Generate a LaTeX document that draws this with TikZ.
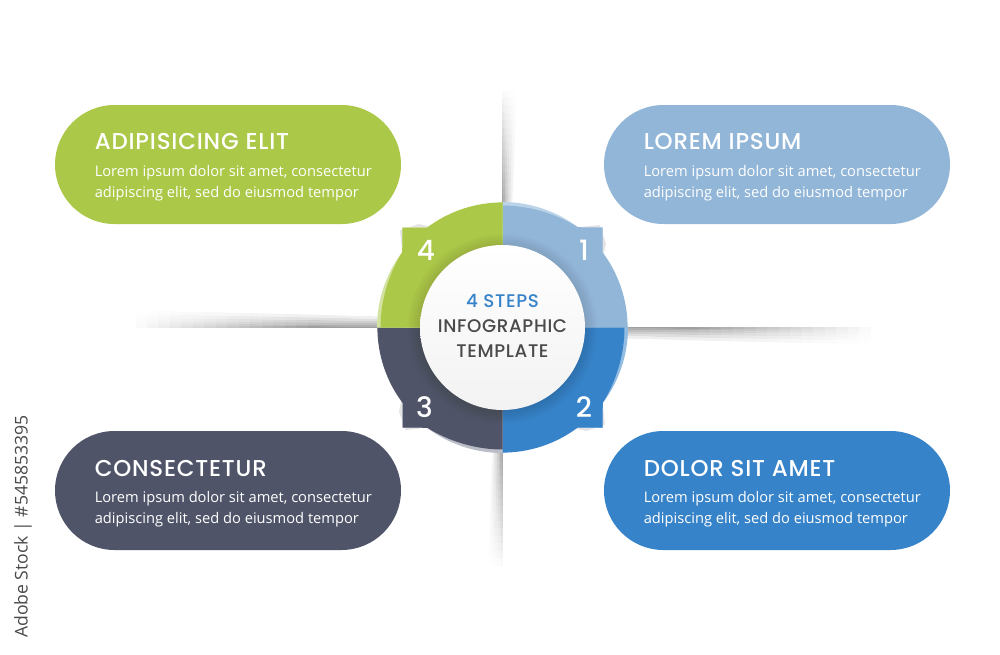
\documentclass[tikz,border=0pt]{standalone}
\usepackage{fontspec}
\usetikzlibrary{shapes.misc}
\setmainfont{Open Sans}
\newfontfamily\headfont[LetterSpace=3.5]{Poppins Medium}
\definecolor{leafgreen}{HTML}{ABC848}
\definecolor{leafrim}{HTML}{D2E2A0}
\definecolor{skyblue}{HTML}{92B6D8}
\definecolor{skyrim}{HTML}{BBD3E8}
\definecolor{seablue}{HTML}{3783C9}
\definecolor{searim}{HTML}{93BCE3}
\definecolor{slate}{HTML}{4F5469}
\definecolor{slaterim}{HTML}{BABCC6}
\definecolor{inkgrey}{HTML}{4A4A4A}
\tikzset{
    pill/.style={rounded rectangle, minimum width=259.5pt, minimum height=89.25pt, inner sep=0pt},
    pilltitle/.style={anchor=west, inner sep=0pt, text=white, font=\headfont\fontsize{17.2}{20}\selectfont},
    pillbody/.style={anchor=west, inner sep=0pt, text=white, align=left, font=\fontsize{11}{16.1}\selectfont},
    stepnum/.style={inner sep=0pt, text=white, font=\headfont\fontsize{21}{24}\selectfont},
    hubtext/.style={inner sep=0pt, font=\headfont\fontsize{13.7}{16}\selectfont}
}

\begin{document}
\begin{tikzpicture}[x=0.75pt,y=-0.75pt]

    \fill[white] (0,0) rectangle (1000,654);
    \useasboundingbox (0,0) rectangle (1000,654);

    % folds behind the ring
    \foreach \rot/\len/\wid in {0/237/14, -90/368/17, -180/238/14, -270/367/17} {
        \begin{scope}[shift={(502.5,327.5)}, rotate=\rot]
            \foreach \i in {1,...,6} {
                \foreach \j in {1,...,16} {
                    \pgfmathsetmacro{\s}{\len*(0.5+0.5*\j/16)}
                    \pgfmathsetmacro{\wnear}{\wid*(\i/6)^1.4*0.6}
                    \pgfmathsetmacro{\wfar}{\wid*(\i/6)^1.4*(0.6+0.4*\s/\len)}
                    \fill[black, opacity=0.005] (-0.5,-100) -- (-0.5,-\s) -- (\wfar,-\s) -- (\wnear,-100) -- cycle;
                }
            }
        \end{scope}
    }

    % the ring, one corner piece each
    \foreach \rot/\col/\rim in {0/skyblue/skyrim, -90/seablue/searim, -180/slate/slaterim, -270/leafgreen/leafrim} {
        \begin{scope}[shift={(502.5,327.5)}, rotate=\rot]
            \fill[gray!70, opacity=0.3] (74,-100) -- (100,-100) -- (100,-68) -- (103.5,-84) -- (97,-102.5) -- cycle;
            \fill[\rim] (0,0) -- (0,-125.5) arc[start angle=-90, end angle=-53.13, radius=125.5] -- (75,-100) -- (100,-100) -- (100,-75) -- (125.5,0) -- cycle;
            \fill[\col] (0,0) -- (0,-122) .. controls (28,-122) and (55,-113) .. (75.3,-100.3)
            -- (100,-100) -- (100,-75.3) arc[start angle=-36.87, end angle=0, radius=125.5] -- cycle;
        \end{scope}
    }

    % soft edge under the hub
    \foreach \r in {83,84.5,...,95} {
        \fill[black, opacity=0.012] (502.5,329) circle[radius=\r];
    }

    \node[circle, minimum size=123.75pt, inner sep=0pt, top color=white, bottom color=gray!10] (hub) at (502.5,327.5) {};

    \node[hubtext, text=seablue] (hubone) at (502.5,301) {4 STEPS};
    \node[hubtext, text=inkgrey] (hubtwo) at (502.5,326) {INFOGRAPHIC};
    \node[hubtext, text=inkgrey] (hubthree) at (502.5,351) {TEMPLATE};

    \node[stepnum] (one) at (584,250) {1};
    \node[stepnum] (two) at (584,407) {2};
    \node[stepnum] (three) at (424.5,407) {3};
    \node[stepnum] (four) at (426,250) {4};

    % text pills
    \foreach \id/\px/\py/\col/\head in {a/228/164.5/leafgreen/ADIPISICING ELIT, b/777/164.5/skyblue/LOREM IPSUM, c/228/490.5/slate/CONSECTETUR, d/777/490.5/seablue/DOLOR SIT AMET} {
        \node[pill, fill=\col] (pill\id) at (\px,\py) {};
        \node[pilltitle] (head\id) at (\px-133.5,\py-22.5) {\head};
        \node[pillbody] (body\id) at (\px-133.5,\py+18.5) {Lorem ipsum dolor sit amet, consectetur\\adipiscing elit, sed do eiusmod tempor};
    }

    \node[rotate=90, inner sep=0pt, text=inkgrey, font=\fontsize{13.2}{15}\selectfont] (stockid) at (23,526.5) {Adobe Stock | \#545853395};
\end{tikzpicture}
\end{document}
